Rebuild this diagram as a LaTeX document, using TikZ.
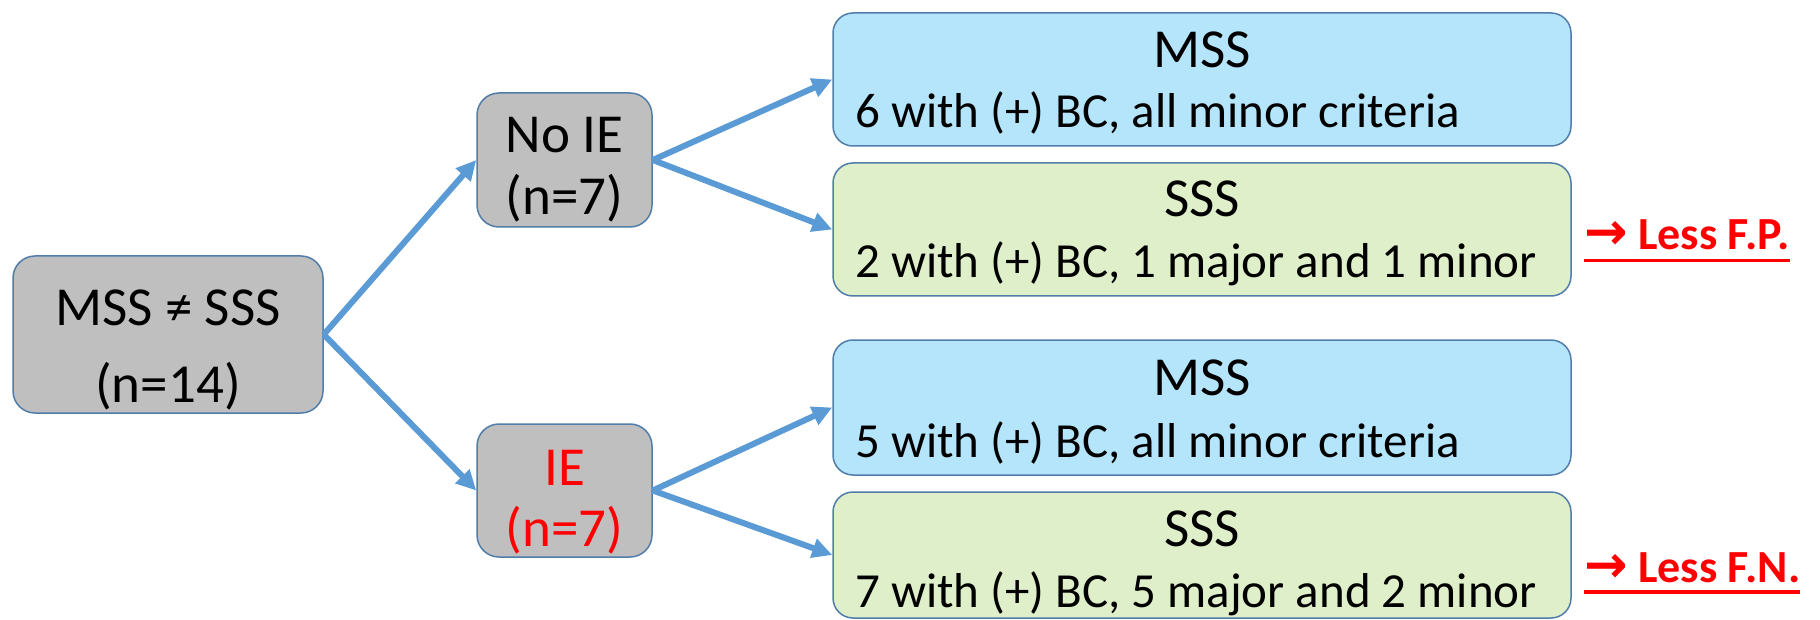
\documentclass[tikz,border=0pt]{standalone}
\usepackage{fontspec}
\setmainfont{Carlito}
\newfontfamily\symfont{DejaVu Sans}
\usetikzlibrary{arrows.meta}

\definecolor{boxline}{RGB}{80,125,170}
\definecolor{grayfill}{RGB}{191,191,191}
\definecolor{bluefill}{RGB}{180,229,250}
\definecolor{greenfill}{RGB}{222,239,202}
\definecolor{arrowblue}{RGB}{91,155,213}
\definecolor{alert}{RGB}{255,0,0}

\newcommand\szbig{\fontsize{55}{66}\selectfont}
\newcommand\szbody{\fontsize{49}{59}\selectfont}
\newcommand\szred{\fontsize{46}{55}\selectfont}
\newcommand\szarrow{\fontsize{52}{55}\selectfont}

\begin{document}
\begin{tikzpicture}[x=1pt,y=-1pt,
  box/.style={draw=boxline, line width=1.5pt, rounded corners=22pt, inner sep=0pt},
  graybox/.style={box, fill=grayfill, minimum width=175pt, minimum height=134pt},
  widebox/.style={box, rounded corners=20pt, minimum width=738pt, minimum height=133pt},
  txt/.style={inner sep=0pt, anchor=base, font=\szbig},
  body/.style={inner sep=0pt, anchor=base west, font=\szbody},
  link/.style={draw=arrowblue, line width=6pt, -{Triangle[length=20pt,width=19pt]}},
  note/.style={inner sep=0pt, anchor=base west, text=alert, font=\szred\bfseries},
  noteline/.style={draw=alert, line width=3.5pt}
]
\fill[white] (0,0) rectangle (1820,620);
\useasboundingbox (0,0) rectangle (1820,620);

% left column
\node[graybox, minimum width=310pt, minimum height=157pt] (all) at (168,334.5) {};
\node[txt] (allA) at (168,325) {MSS ≠ SSS};
\node[txt] (allB) at (168,402) {(n=14)};

% middle column
\node[graybox] (noie) at (564.5,160) {};
\node[txt] (noieA) at (564.5,153) {No IE};
\node[txt] (noieB) at (564.5,215) {(n=7)};

\node[graybox, minimum height=133pt] (ie) at (564.5,490.5) {};
\node[txt, text=alert] (ieA) at (564.5,485) {IE};
\node[txt, text=alert] (ieB) at (564.5,546) {(n=7)};

% right column
\node[widebox, fill=bluefill] (mssA) at (1202,79.5) {};
\node[txt] (mssAt) at (1202,68) {MSS};
\node[body] (mssAb) at (855,128) {6 with (+) BC, all minor criteria};

\node[widebox, fill=greenfill] (sssA) at (1202,229.5) {};
\node[txt] (sssAt) at (1202,217) {SSS};
\node[body] (sssAb) at (855,278) {2 with (+) BC, 1 major and 1 minor};

\node[widebox, fill=bluefill, minimum height=135pt] (mssB) at (1202,407.5) {};
\node[txt] (mssBt) at (1202,395) {MSS};
\node[body] (mssBb) at (855,457) {5 with (+) BC, all minor criteria};

\node[widebox, fill=greenfill, minimum height=126pt] (sssB) at (1202,555) {};
\node[txt] (sssBt) at (1202,546) {SSS};
\node[body] (sssBb) at (855,607) {7 with (+) BC, 5 major and 2 minor};

% connectors
\draw[link] (all.east) -- (noie.west);
\draw[link] (all.east) -- (ie.west);
\draw[link] (noie.east) -- (mssA.west);
\draw[link] (noie.east) -- (sssA.west);
\draw[link] (ie.east) -- (mssB.west);
\draw[link] (ie.east) -- (sssB.west);

% side notes
\node[note] (fp) at (1584,250) {{\symfont\bfseries\szarrow →} Less F.P.};
\draw[noteline] ([yshift=-10.5pt]fp.base west) -- ([yshift=-10.5pt]fp.base east);
\node[note] (fn) at (1584,582) {{\symfont\bfseries\szarrow →} Less F.N.};
\draw[noteline] ([yshift=-10pt]fn.base west) -- ([yshift=-10pt]fn.base east);
\end{tikzpicture}
\end{document}
